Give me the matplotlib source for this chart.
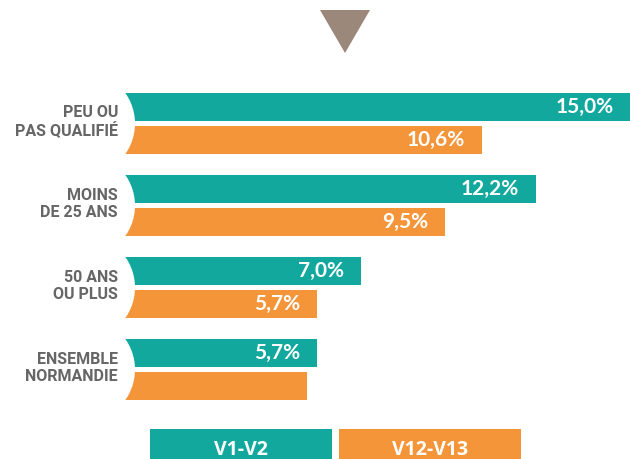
import matplotlib.pyplot as plt
from matplotlib.patches import Ellipse, Rectangle, Polygon

# Data (last orange bar has no printed value, estimated)
groups = ["PEU OU\nPAS QUALIFIÉ", "MOINS\nDE 25 ANS", "50 ANS\nOU PLUS", "ENSEMBLE\nNORMANDIE"]
v1_v2 = [15.0, 12.2, 7.0, 5.7]
v12_v13 = [10.6, 9.5, 5.7, 5.4]
v1_v2_labels = ["15,0%", "12,2%", "7,0%", "5,7%"]
v12_v13_labels = ["10,6%", "9,5%", "5,7%", ""]
series_names = ["V1-V2", "V12-V13"]

teal = "#13a89e"
orange = "#f5953a"
grey = "#666666"

W, H = 630, 459
fig = plt.figure(figsize=(6.3, 4.59), dpi=100)
ax = fig.add_axes([125 / W, (H - 400) / H, 505 / W, 307 / H])

xmax = 15.0
ax.set_xlim(0, xmax)
ax.set_ylim(3.372, -0.372)
ax.axis("off")

bh = 0.341
off = 0.201
pos = list(range(len(groups)))
ax.barh([p - off for p in pos], v1_v2, height=bh, color=teal, zorder=2)
ax.barh([p + off for p in pos], v12_v13, height=bh, color=orange, zorder=2)

for p, v, lab in zip(pos, v1_v2, v1_v2_labels):
    ax.annotate(lab, (v, p - off), xytext=(-12, 0), textcoords="offset points",
                ha="right", va="center", color="white", fontsize=15,
                family="Lato", weight="bold", zorder=5, annotation_clip=False)
for p, v, lab in zip(pos, v12_v13, v12_v13_labels):
    ax.annotate(lab, (v, p + off), xytext=(-12, 0), textcoords="offset points",
                ha="right", va="center", color="white", fontsize=15,
                family="Lato", weight="bold", zorder=5, annotation_clip=False)

# white circles that give the bars their curved left end
px_x = xmax / 505
for p in pos:
    ax.add_patch(Ellipse(((82 - 125) * px_x, p), 106 * px_x, 106 / 82,
                         facecolor="white", edgecolor="none", zorder=3, clip_on=False))
    ax.text((118 - 125) * px_x, p - 0.02, groups[p], ha="right", va="center",
            color=grey, fontsize=11.5, family="Roboto", weight="bold",
            linespacing=1.2, zorder=4, clip_on=False)

# triangle on top
fig.patches.append(Polygon([(320 / W, 1 - 10 / H), (370 / W, 1 - 10 / H), (345 / W, 1 - 53 / H)],
                           closed=True, facecolor="#9c877b", edgecolor="none",
                           transform=fig.transFigure))

# legend boxes at the bottom
for x0, c, name in [(150, teal, series_names[0]), (339, orange, series_names[1])]:
    fig.patches.append(Rectangle((x0 / W, 0), 182 / W, 30 / H, facecolor=c,
                                 edgecolor="none", transform=fig.transFigure))
    fig.text((x0 + 91) / W, 9 / H, name, ha="center", va="center", color="white",
             fontsize=14, family="Open Sans", weight="bold")

fig.savefig("out.png", dpi=100)
